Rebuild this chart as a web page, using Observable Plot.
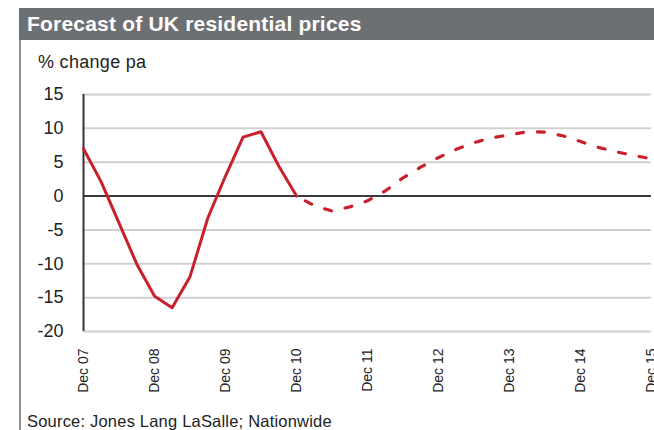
<!DOCTYPE html>
<html>
<head>
<meta charset="utf-8">
<script src="https://cdn.jsdelivr.net/npm/d3@7"></script>
<script src="https://cdn.jsdelivr.net/npm/@observablehq/plot@0.6"></script>
<style>
  html, body { margin: 0; padding: 0; background: #fff; }
  body { width: 654px; height: 430px; position: relative; overflow: hidden; font-family: "Liberation Sans", Arial, sans-serif; }
  #title { position: absolute; left: 19px; top: 8px; width: 635px; height: 32px; background: #6d7073; color: #fff;
           font-weight: bold; font-size: 21px; line-height: 32px; padding-left: 8px; box-sizing: border-box; letter-spacing: 0.2px; }
  #frame { position: absolute; left: 19px; top: 40px; width: 2px; height: 390px; background: #8c8e90; }
  #sub { position: absolute; left: 38px; top: 52px; font-size: 18px; line-height: 20px; color: #222; letter-spacing: 0.3px; }
  #chart { position: absolute; left: 0; top: 80px; }
  #caption { position: absolute; left: 27px; top: 412px; font-size: 16.5px; line-height: 18px; color: #222; letter-spacing: 0.2px; }
</style>
</head>
<body>
<div id="title">Forecast of UK residential prices</div>
<div id="frame"></div>
<div id="sub">% change pa</div>
<div id="chart"></div>
<div id="caption">Source: Jones Lang LaSalle; Nationwide</div>
<script>
const actualDates = ["2007-12","2008-03","2008-06","2008-09","2008-12","2009-03","2009-06","2009-09","2009-12","2010-03","2010-06","2010-09","2010-12"];
const actualValues = [7, 2.1, -4, -10.1, -14.8, -16.5, -11.9, -3.2, 3, 8.7, 9.5, 4.4, 0];

const forecastDates = ["2010-12","2011-03","2011-06","2011-09","2011-12","2012-03","2012-06","2012-09","2012-12","2013-03","2013-06","2013-09","2013-12","2014-03","2014-06","2014-09","2014-12","2015-03","2015-06","2015-09","2015-12"];
const forecastValues = [0, -1.4, -2.2, -1.6, -0.7, 0.75, 2.7, 4.3, 5.7, 6.9, 7.9, 8.6, 9.05, 9.5, 9.45, 8.9, 8.05, 7.2, 6.55, 6.0, 5.5];

const tickDates = ["2007-12","2008-12","2009-12","2010-12","2011-12","2012-12","2013-12","2014-12","2015-12"];
const tickLabels = ["Dec 07","Dec 08","Dec 09","Dec 10","Dec 11","Dec 12","Dec 13","Dec 14","Dec 15"];
const yTicks = [-20, -15, -10, -5, 0, 5, 10, 15];

const parse = d3.utcParse("%Y-%m");
const actual = actualDates.map((d, i) => ({date: parse(d), value: actualValues[i]}));
const forecast = forecastDates.map((d, i) => ({date: parse(d), value: forecastValues[i]}));
const ticks = tickDates.map(parse);

const chart = Plot.plot({
  width: 654,
  height: 320,
  marginTop: 14,
  marginBottom: 69,
  marginLeft: 83,
  marginRight: 3,
  style: {fontFamily: "'Liberation Sans', Arial, sans-serif", background: "transparent", color: "#222"},
  x: {type: "utc", domain: [ticks[0], ticks[ticks.length - 1]]},
  y: {domain: [-20, 15]},
  marks: [
    Plot.ruleY(yTicks.filter(v => v !== 0), {stroke: "#d0d0d0", strokeWidth: 2}),
    Plot.ruleY([0], {stroke: "#3a3a3a", strokeWidth: 2}),
    Plot.ruleX([ticks[0]], {stroke: "#333", strokeWidth: 2}),
    Plot.axisY({ticks: yTicks, tickFormat: d => (d < 0 ? "-" + Math.abs(d) : String(d)),
                tickSize: 0, tickPadding: 20, fontSize: 18, label: null}),
    Plot.axisX({ticks: ticks, tickFormat: d => tickLabels[ticks.findIndex(t => +t === +d)],
                tickRotate: -90, tickSize: 0, tickPadding: 17, fontSize: 14, label: null}),
    Plot.line(actual, {x: "date", y: "value", stroke: "#c8202c", strokeWidth: 3}),
    Plot.line(forecast, {x: "date", y: "value", stroke: "#c8202c", strokeWidth: 3.2,
                         strokeDasharray: "7,14", strokeDashoffset: 11})
  ]
});
document.getElementById("chart").appendChild(chart);
</script>
</body>
</html>
